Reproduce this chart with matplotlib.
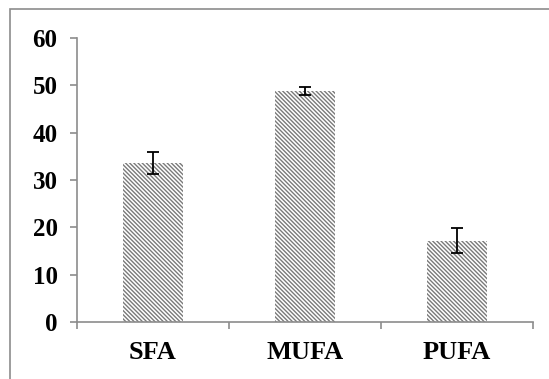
import matplotlib.pyplot as plt
import matplotlib.patches as patches
import numpy as np

categories = ['SFA', 'MUFA', 'PUFA']
values = [33.6, 48.8, 17.2]
errors = [2.3, 0.8, 2.7]
yticks = [0, 10, 20, 30, 40, 50, 60]

plt.rcParams['font.family'] = 'Liberation Serif'
plt.rcParams['font.weight'] = 'bold'
plt.rcParams['hatch.linewidth'] = 1.0

fig = plt.figure(figsize=(5.49, 3.79), dpi=100)
W, H = 549, 379

# outer chart frame
fig.patches.append(patches.Rectangle((10 / W, -0.1), 1.2, (H - 9) / H + 0.1,
                                     transform=fig.transFigure, fill=False,
                                     edgecolor='#8c8c8c', linewidth=1.2))

ax = fig.add_axes([77 / W, (H - 322) / H, (533 - 77) / W, (322 - 38) / H])

x = np.arange(len(categories)) + 0.5
ax.bar(x, values, width=0.4, color='white', edgecolor='#7a7a7a',
       linewidth=0, hatch='\\' * 8)
ax.errorbar(x, values, yerr=errors, fmt='none', ecolor='black',
            elinewidth=1.3, capsize=4, capthick=1.3)

ax.set_xlim(0, 3)
ax.set_ylim(0, 60)
ax.set_yticks(yticks)
ax.set_yticklabels([str(v) for v in yticks], fontsize=18, fontweight='bold')
ax.set_xticks([0, 1, 2, 3])
ax.set_xticklabels([])
ax.set_xticks(x, minor=True)
ax.set_xticklabels(categories, minor=True, fontsize=19, fontweight='bold')

for s in ['top', 'right']:
    ax.spines[s].set_visible(False)
for s in ['left', 'bottom']:
    ax.spines[s].set_color('#8c8c8c')
    ax.spines[s].set_linewidth(1.2)

ax.tick_params(axis='y', direction='out', length=5, color='#8c8c8c', width=1.2, pad=9)
ax.tick_params(axis='x', which='major', direction='out', length=5, color='#8c8c8c', width=1.2)
ax.tick_params(axis='x', which='minor', length=0, pad=14)

plt.savefig('out.png', dpi=100)
